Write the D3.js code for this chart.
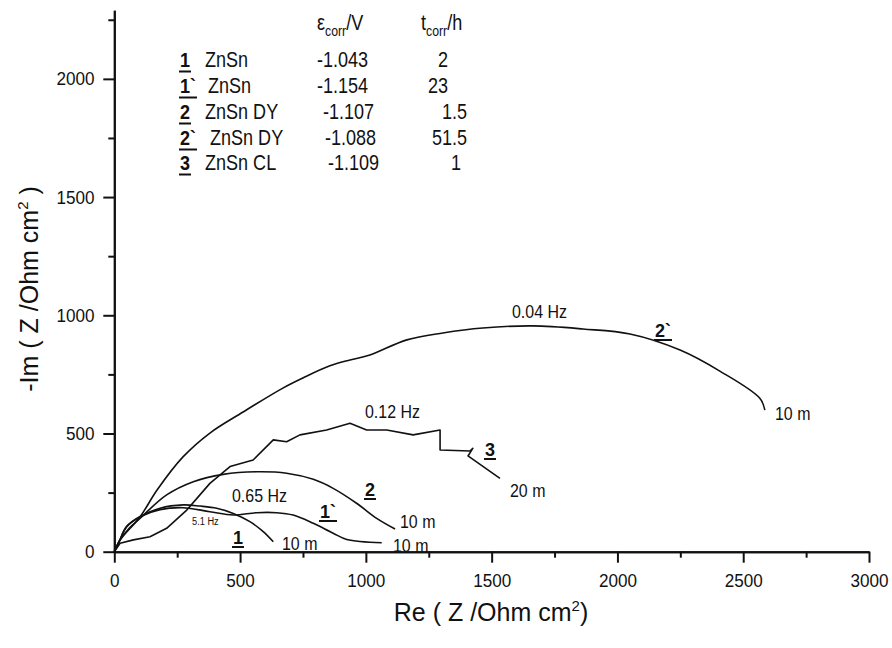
<!DOCTYPE html>
<html>
<head>
<meta charset="utf-8">
<script src="https://cdn.jsdelivr.net/npm/d3@7"></script>
<style>
  html, body { margin: 0; padding: 0; background: #fff; }
  svg { display: block; }
  text { font-family: "Liberation Sans", Arial, sans-serif; fill: #111; }
</style>
</head>
<body>
<svg id="chart" width="892" height="648"></svg>
<script>
// Nyquist spectra: Re(Z) vs -Im(Z), Ohm cm^2
const curve1  = [[0,0],[20,45],[49,106],[102,148],[182,184],[274,198],[341,193],[407,184],[473,162],[539,127],[592,85],[632,42]];
const curve1p = [[0,0],[20,45],[49,106],[102,148],[182,178],[274,186],[380,169],[473,155],[566,165],[645,165],[711,155],[791,120],[870,78],[924,52],[1063,38]];
const curve2  = [[0,0],[22,48],[60,100],[102,141],[208,240],[314,296],[433,327],[566,338],[685,332],[791,306],[870,268],[963,205],[1043,141],[1116,96]];
const curve2p = [[0,0],[23,49],[102,147],[170,261],[273,401],[380,502],[512,591],[670,692],[750,735],[857,786],[937,811],[1016,832],[1163,896],[1306,925],[1465,946],[1664,955],[1863,942],[2050,921],[2249,853],[2407,764],[2566,649],[2586,599]];
const curve3  = [[0,0],[23,36],[76,50],[142,63],[208,99],[288,176],[380,289],[460,360],[552,388],[632,473],[685,465],[738,494],[844,515],[937,543],[1003,515],[1083,515],[1188,494],[1295,515],[1295,430],[1414,426],[1425,437],[1406,405],[1533,310]];

// table in the upper left
const legendIds   = ["1", "1`", "2", "2`", "3"];
const legendNames = ["ZnSn", "ZnSn", "ZnSn DY", "ZnSn DY", "ZnSn CL"];
const legendEcorr = ["-1.043", "-1.154", "-1.107", "-1.088", "-1.109"];
const legendTcorr = ["2", "23", "1.5", "51.5", "1"];

const xTicks = [0, 500, 1000, 1500, 2000, 2500, 3000];
const xMinor = [250, 750, 1250, 1750, 2250, 2750];
const yTicks = [0, 500, 1000, 1500, 2000];
const yMinor = [250, 750, 1250, 1750, 2250];

const svg = d3.select("#chart");
const x = d3.scaleLinear().domain([0, 3000]).range([114.3, 869]);
const y = d3.scaleLinear().domain([0, 2290]).range([551.7, 10.3]);

const NARROW = 0.84;

function put(g, px, py, str, o = {}) {
  const sx = o.sx ?? NARROW;
  const t = g.append("text")
    .attr("transform", `translate(${px},${py}) scale(${sx},1)`)
    .attr("text-anchor", o.anchor || "start")
    .style("font-size", (o.size || 19) + "px")
    .style("font-weight", o.bold ? "bold" : "normal")
    .text(str);
  if (o.underline) {
    const len = t.node().getComputedTextLength() * sx;
    const x0 = o.anchor === "end" ? px - len : px;
    g.append("line")
      .attr("x1", x0 - 1).attr("x2", x0 + len + 1)
      .attr("y1", py + o.underline).attr("y2", py + o.underline)
      .attr("stroke", "#111").attr("stroke-width", 2);
  }
  return t;
}

// axes
const xAxis = svg.append("g").attr("transform", `translate(0,${y(0)})`)
  .call(d3.axisBottom(x).tickValues(xTicks).tickSize(11).tickSizeOuter(0).tickPadding(11).tickFormat(d3.format("d")));
const xAxisMinor = svg.append("g").attr("transform", `translate(0,${y(0)})`)
  .call(d3.axisBottom(x).tickValues(xMinor).tickSize(6).tickSizeOuter(0).tickFormat(""));
const yAxis = svg.append("g").attr("transform", `translate(${x(0)},0)`)
  .call(d3.axisLeft(y).tickValues(yTicks).tickSize(11).tickSizeOuter(0).tickPadding(11).tickFormat(d3.format("d")));
const yAxisMinor = svg.append("g").attr("transform", `translate(${x(0)},0)`)
  .call(d3.axisLeft(y).tickValues(yMinor).tickSize(6).tickSizeOuter(0).tickFormat(""));

[xAxis, xAxisMinor, yAxis, yAxisMinor].forEach(a => {
  a.selectAll("path.domain").attr("stroke", "#111").attr("stroke-width", 2);
  a.selectAll(".tick line").attr("stroke", "#111").attr("stroke-width", 2);
});
[xAxis, yAxis].forEach(a => {
  a.selectAll(".tick text")
    .style("font-family", '"Liberation Sans", Arial, sans-serif')
    .style("font-size", "19px").attr("fill", "#111")
    .attr("transform", "scale(0.9,1)");
});

// axis titles
const xt = svg.append("text").attr("x", 491).attr("y", 621).attr("text-anchor", "middle").style("font-size", "25px");
xt.append("tspan").text("Re ( Z /Ohm cm");
xt.append("tspan").attr("dy", -10).style("font-size", "15px").text("2");
xt.append("tspan").attr("dy", 10).text(")");

const yt = svg.append("text").attr("transform", "translate(38,289) rotate(-90)").attr("text-anchor", "middle").style("font-size", "25px");
yt.append("tspan").text("-Im ( Z /Ohm cm");
yt.append("tspan").attr("dy", -10).style("font-size", "15px").text("2");
yt.append("tspan").attr("dy", 10).text(" )");

// spectra
const smooth = d3.line().x(d => x(d[0])).y(d => y(d[1])).curve(d3.curveCatmullRom.alpha(0.5));
const straight = d3.line().x(d => x(d[0])).y(d => y(d[1]));
const plot = svg.append("g").attr("fill", "none").attr("stroke", "#111").attr("stroke-width", 1.6).attr("stroke-linejoin", "round");
[curve1, curve1p, curve2, curve2p].forEach(c => plot.append("path").attr("d", smooth(c)));
plot.append("path").attr("d", straight(curve3));

// annotations on the curves
const ann = svg.append("g");
put(ann, 512, 318, "0.04 Hz");
put(ann, 655, 337, "2`", { bold: true, size: 18, sx: 1, underline: 3 });
put(ann, 775, 420, "10 m");
put(ann, 365, 418, "0.12 Hz");
put(ann, 485, 456, "3", { bold: true, size: 18, sx: 1, underline: 3 });
put(ann, 510, 497, "20 m");
put(ann, 365, 496, "2", { bold: true, size: 18, sx: 1, underline: 3 });
put(ann, 400, 528, "10 m");
put(ann, 232, 502, "0.65 Hz");
put(ann, 320, 518, "1`", { bold: true, size: 18, sx: 1, underline: 3 });
put(ann, 233, 544, "1", { bold: true, size: 18, sx: 1, underline: 3 });
put(ann, 282, 550, "10 m");
put(ann, 393, 552, "10 m");
put(ann, 192, 525, "5.1 Hz", { size: 11 });

// table
const tbl = svg.append("g");
const rowY = [67, 93, 119, 145, 170];
const nameX = [205, 208, 205, 210, 205];
const ecorrX = [317, 317, 323, 325, 328];
const tcorrX = [448, 448, 467, 467, 461];
const LS = 22, LSX = 0.82;

const h1 = tbl.append("text").attr("transform", `translate(317,30) scale(${LSX},1)`).style("font-size", LS + "px");
h1.append("tspan").text("ε");
h1.append("tspan").attr("dy", 6).style("font-size", "15px").text("corr");
h1.append("tspan").attr("dy", -6).text("/V");
const h2 = tbl.append("text").attr("transform", `translate(421,30) scale(${LSX},1)`).style("font-size", LS + "px");
h2.append("tspan").text("t");
h2.append("tspan").attr("dy", 6).style("font-size", "15px").text("corr");
h2.append("tspan").attr("dy", -6).text("/h");

legendIds.forEach((id, i) => {
  put(tbl, 180, rowY[i], id, { bold: true, size: 20, sx: 0.9, underline: 4.5 });
  put(tbl, nameX[i], rowY[i], legendNames[i], { size: LS, sx: LSX });
  put(tbl, ecorrX[i], rowY[i], legendEcorr[i], { size: LS, sx: LSX });
  put(tbl, tcorrX[i], rowY[i], legendTcorr[i], { size: LS, sx: LSX, anchor: "end" });
});
</script>
</body>
</html>
